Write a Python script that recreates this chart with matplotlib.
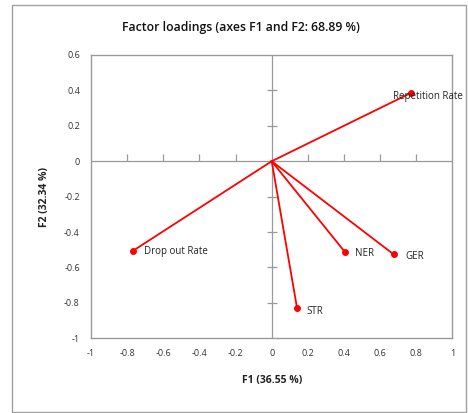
import matplotlib
matplotlib.use("Agg")
import matplotlib.pyplot as plt
from matplotlib.patches import Rectangle

variables = ["Repetition Rate", "Drop out Rate", "NER", "GER", "STR"]
f1 = [0.773, -0.768, 0.404, 0.675, 0.140]
f2 = [0.387, -0.506, -0.511, -0.526, -0.828]
label_offsets = [(-18, -4), (11, -1), (10, -2), (12, -2), (9, -4)]
xticks = [-1, -0.8, -0.6, -0.4, -0.2, 0, 0.2, 0.4, 0.6, 0.8, 1]
yticks = [0.6, 0.4, 0.2, 0, -0.2, -0.4, -0.6, -0.8, -1]

plt.rcParams['font.family'] = ['Open Sans', 'DejaVu Sans']

fig = plt.figure(figsize=(4.68, 4.13), dpi=100)
fig.patches.append(Rectangle((12/468, 1/413), 454/468, 407/413, transform=fig.transFigure,
                             fill=False, edgecolor='#a0a0a0', lw=1.0))
ax = fig.add_axes([91/468, 1-338.3/413, 361.4/468, 283.3/413])
ax.set_xlim(-1, 1)
ax.set_ylim(-1, 0.6)
ax.set_xticks(xticks)
ax.set_xticklabels([f"{t:g}" for t in xticks])
ax.set_yticks(yticks)
ax.set_yticklabels([f"{t:g}" for t in yticks])
ax.tick_params(length=0, labelsize=6.5, colors='#333333', pad=8)
for s in ax.spines.values():
    s.set_color('#9a9a9a')
    s.set_linewidth(1.0)

ax.axhline(0, color='#9a9a9a', lw=0.9, zorder=1)
ax.axvline(0, color='#9a9a9a', lw=0.9, zorder=1)
inner_x = [t for t in xticks if t not in (-1, 0, 1)]
inner_y = [t for t in yticks if t not in (0.6, 0, -1)]
ax.plot(inner_x, [0]*len(inner_x), ls='none', marker=2, ms=5, color='#9a9a9a', mew=0.9, zorder=1)
ax.plot([0]*len(inner_y), inner_y, ls='none', marker='_', ms=7, color='#9a9a9a', mew=0.9, zorder=1)

for x, y, name, off in zip(f1, f2, variables, label_offsets):
    ax.plot([0, x], [0, y], color='#ff0000', lw=1.3, zorder=3)
    ax.plot([x], [y], 'o', color='#ff0000', ms=4, zorder=4)
    ax.annotate(name, (x, y), xytext=off, textcoords='offset pixels',
                fontsize=7, color='#222222', va='center', ha='left', zorder=5)

fig.text(241/468, 1-28/413, "Factor loadings (axes F1 and F2: 68.89 %)", ha='center', va='center',
         fontsize=8.8, fontweight='semibold', color='#111111')
ax.set_xlabel("F1 (36.55 %)", fontsize=7.5, fontweight='bold', color='#222222', labelpad=12)
ax.set_ylabel("F2 (32.34 %)", fontsize=7.5, fontweight='bold', color='#222222', labelpad=10)

fig.savefig("out.png", dpi=100)
